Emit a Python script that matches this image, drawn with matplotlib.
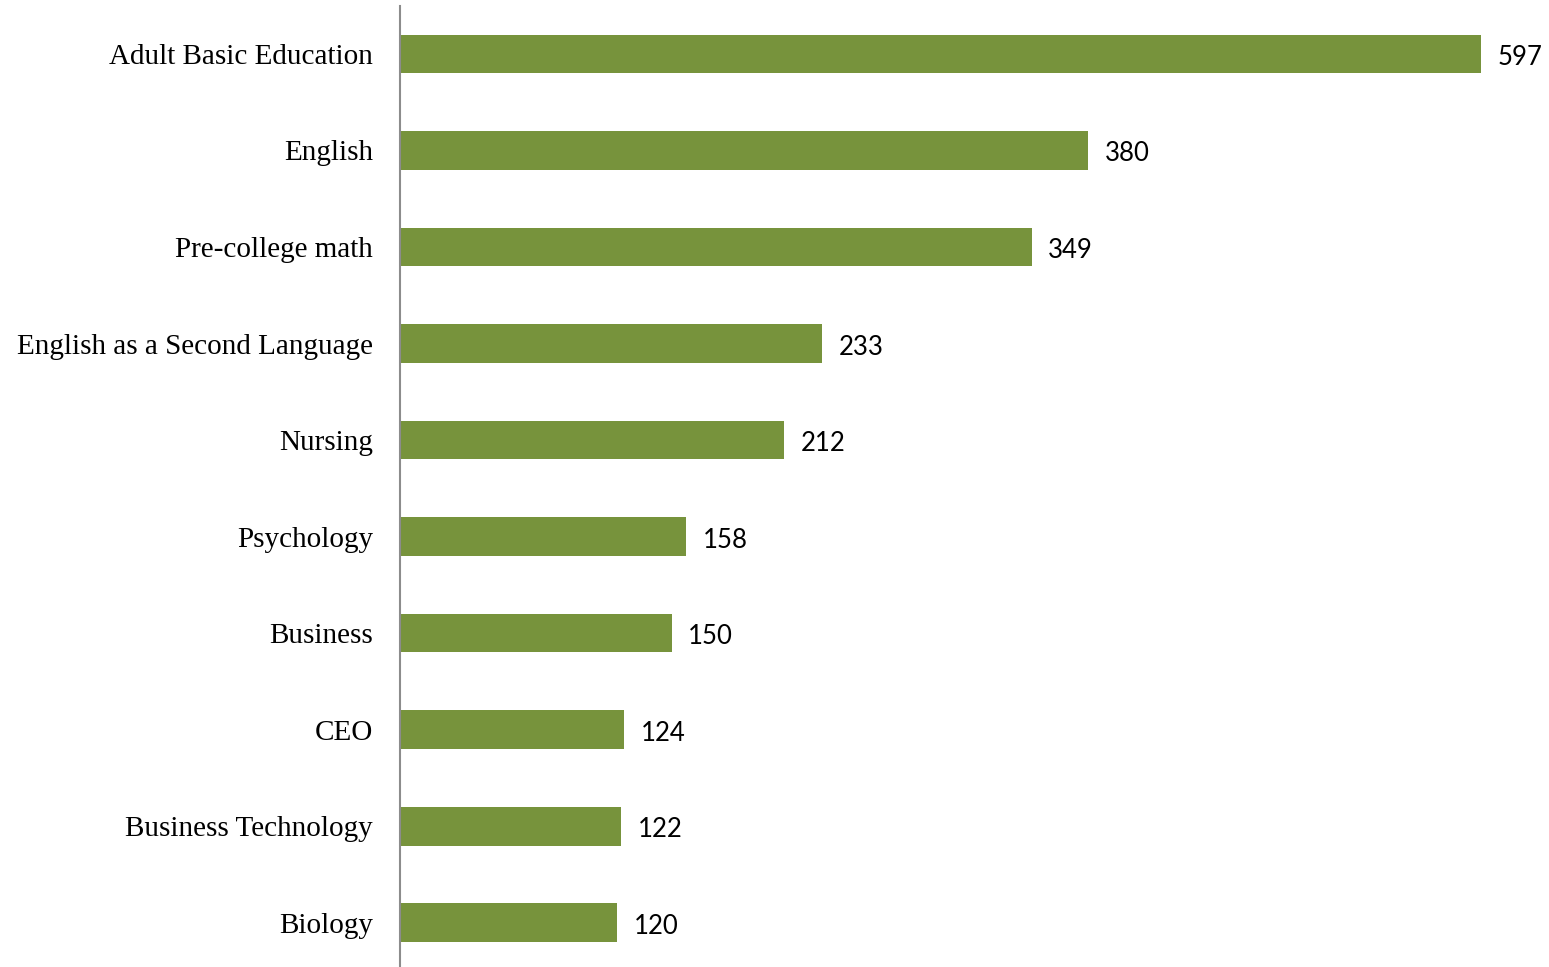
import matplotlib
matplotlib.use("Agg")
import matplotlib.pyplot as plt

# data, top to bottom as in the chart
subjects = ["Adult Basic Education", "English", "Pre-college math",
            "English as a Second Language", "Nursing", "Psychology",
            "Business", "CEO", "Business Technology", "Biology"]
counts = [597, 380, 349, 233, 212, 158, 150, 124, 122, 120]

bar_color = "#77933C"

fig = plt.figure(figsize=(15.49, 9.67), dpi=100)
ax = fig.add_axes([400/1549, -4/967, 1086/1549, 965.3/967])

ypos = list(range(len(subjects)))
ax.barh(ypos, counts, height=0.4, color=bar_color)
ax.set_ylim(len(subjects) - 0.5, -0.5)
ax.set_xlim(0, 600)

ax.set_yticks(ypos)
ax.set_yticklabels(subjects, fontfamily="Liberation Serif", fontsize=21)
ax.tick_params(axis="y", length=0, pad=19.5)
ax.set_xticks([])

for s in ["top", "right", "bottom"]:
    ax.spines[s].set_visible(False)
ax.spines["left"].set_color("#8c8c8c")
ax.spines["left"].set_linewidth(1.5)

for y, v in zip(ypos, counts):
    ax.annotate(str(v), (v, y), xytext=(12, -2.5), textcoords="offset points",
                va="center", ha="left", fontsize=18.5, fontfamily="Lato")

fig.savefig("out.png", dpi=100)
